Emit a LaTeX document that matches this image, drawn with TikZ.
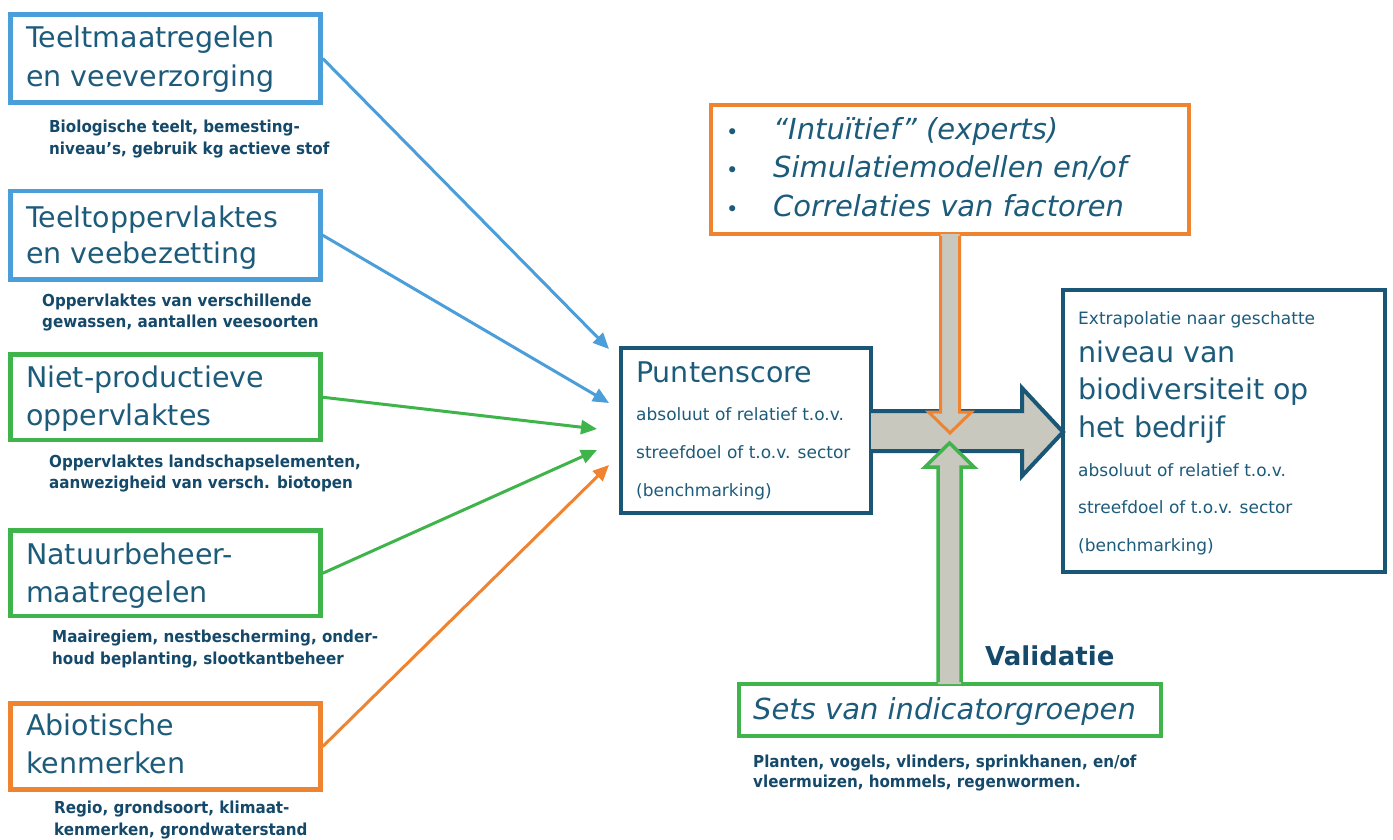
\documentclass[tikz,border=0pt]{standalone}
\usepackage{fontspec}
\usepackage{graphicx}
\setmainfont{DejaVu Sans}
\usetikzlibrary{arrows.meta}
\definecolor{cblue}{HTML}{4A9ED9}
\definecolor{cgreen}{HTML}{3EB44A}
\definecolor{corange}{HTML}{F0832F}
\definecolor{cdark}{HTML}{1A5675}
\definecolor{cgray}{HTML}{C8C8BF}
\definecolor{txt}{HTML}{1D5B7B}
\definecolor{txtd}{HTML}{15496A}
\newcommand{\subsq}[1]{\scalebox{0.917}[1]{#1}}
\tikzset{
  maintxt/.style={anchor=base west, inner sep=0pt, font=\fontsize{28.5}{34}\selectfont, text=txt},
  itxt/.style={anchor=base west, inner sep=0pt, font=\itshape\fontsize{29}{34}\selectfont, text=txt},
  subtxt/.style={anchor=base west, inner sep=0pt, font=\bfseries\fontsize{16.5}{19}\selectfont, text=txtd},
  smalltxt/.style={anchor=base west, inner sep=0pt, font=\fontsize{17}{20}\selectfont, text=txt},
  bullettxt/.style={anchor=base west, inner sep=0pt, font=\fontsize{21}{24}\selectfont, text=txt},
  frame/.style={draw, line width=4.5pt, inner sep=0pt, fill=white},
  leftbox/.style={frame, minimum width=310pt},
  conn/.style={line width=3pt, -{Triangle[length=16pt,width=14pt]}},
}
\begin{document}
\begin{tikzpicture}[x=1pt,y=-1pt]
\useasboundingbox (0,0) rectangle (1393,840);

% left boxes
\node[leftbox, draw=cblue, minimum height=88pt] (b1) at (165.5,58.5) {};
\node[leftbox, draw=cblue, minimum height=88.5pt] (b2) at (165.5,235.25) {};
\node[leftbox, draw=cgreen, minimum height=85.5pt] (b3) at (165.5,397.25) {};
\node[leftbox, draw=cgreen, minimum height=85.5pt] (b4) at (165.5,573.25) {};
\node[leftbox, draw=corange, minimum height=86pt] (b5) at (165.5,746.5) {};

\node[maintxt] (b1a) at (26,48) {Teeltmaatregelen};
\node[maintxt] (b1b) at (26,87) {en veeverzorging};
\node[subtxt] (s1a) at (49,133) {\subsq{Biologische teelt, bemesting-}};
\node[subtxt] (s1b) at (49,155) {\subsq{niveau’s, gebruik kg actieve stof}};

\node[maintxt] (b2a) at (26,227) {Teeltoppervlaktes};
\node[maintxt] (b2b) at (26,263) {en veebezetting};
\node[subtxt] (s2a) at (42,306) {\subsq{Oppervlaktes van verschillende}};
\node[subtxt] (s2b) at (42,327) {\subsq{gewassen, aantallen veesoorten}};

\node[maintxt] (b3a) at (26,387) {Niet-productieve};
\node[maintxt] (b3b) at (26,425) {oppervlaktes};
\node[subtxt] (s3a) at (49,467) {\subsq{Oppervlaktes landschapselementen,}};
\node[subtxt] (s3b) at (49,488) {\subsq{aanwezigheid van versch. biotopen}};

\node[maintxt] (b4a) at (26,564) {Natuurbeheer-};
\node[maintxt] (b4b) at (26,602) {maatregelen};
\node[subtxt] (s4a) at (52,642) {\subsq{Maairegiem, nestbescherming, onder-}};
\node[subtxt] (s4b) at (52,664) {\subsq{houd beplanting, slootkantbeheer}};

\node[maintxt] (b5a) at (26,735) {Abiotische};
\node[maintxt] (b5b) at (26,773) {kenmerken};
\node[subtxt] (s5a) at (54,813) {\subsq{Regio, grondsoort, klimaat-}};
\node[subtxt] (s5b) at (54,835) {\subsq{kenmerken, grondwaterstand}};

% Puntenscore box
\node[frame, draw=cdark, line width=4pt, minimum width=250.5pt, minimum height=165.5pt] (ps) at (745.75,430.25) {};
\node[maintxt] (psa) at (636,382) {Puntenscore};
\node[smalltxt] (psb) at (636,420) {absoluut of relatief t.o.v.};
\node[smalltxt] (psc) at (636,458) {streefdoel of t.o.v. sector};
\node[smalltxt] (psd) at (636,496) {(benchmarking)};

% connectors
\coordinate (t1) at (609,349);
\coordinate (t2) at (609,403);
\coordinate (t3) at (597,429);
\coordinate (t4) at (597,450);
\coordinate (t5) at (609,465);
\draw[conn, cblue] (b1.east) -- (t1);
\draw[conn, cblue] (b2.east) -- (t2);
\draw[conn, cgreen] (b3.east) -- (t3);
\draw[conn, cgreen] (b4.east) -- (t4);
\draw[conn, corange] (b5.east) -- (t5);

% right box
\node[frame, draw=cdark, line width=4pt, minimum width=322pt, minimum height=282.5pt] (rb) at (1224,430.75) {};
\node[smalltxt] (rba) at (1078,324) {Extrapolatie naar geschatte};
\node[maintxt] (rbb) at (1078,362) {niveau van};
\node[maintxt] (rbc) at (1078,399) {biodiversiteit op};
\node[maintxt] (rbd) at (1078,437) {het bedrijf};
\node[smalltxt] (rbe) at (1078,476) {absoluut of relatief t.o.v.};
\node[smalltxt] (rbf) at (1078,513) {streefdoel of t.o.v. sector};
\node[smalltxt] (rbg) at (1078,551) {(benchmarking)};

% big arrow
\fill[cgray] (871,411) -- (1022,411) -- (1022,388) -- (1063,432) -- (1022,476) -- (1022,451) -- (871,451) -- cycle;
\draw[cdark, line width=4pt, line join=miter] (871,411) -- (1022,411) -- (1022,388) -- (1063,432) -- (1022,476) -- (1022,451) -- (871,451);

% top box
\node[frame, draw=corange, line width=4pt, minimum width=478.5pt, minimum height=129pt] (tb) at (949.75,169.5) {};
\node[bullettxt] (tbu1) at (726,140) {•};
\node[bullettxt] (tbu2) at (726,178) {•};
\node[bullettxt] (tbu3) at (726,216) {•};
\node[itxt] (tba) at (773,140) {“Intuïtief” (experts)};
\node[itxt] (tbb) at (773,178) {Simulatiemodellen en/of};
\node[itxt] (tbc) at (773,216) {Correlaties van factoren};

% bottom box
\node[frame, draw=cgreen, line width=4pt, minimum width=422pt, minimum height=52pt] (bb) at (950,710) {};
\node[itxt] (bba) at (753,719) {Sets van indicatorgroepen};
\node[anchor=base west, inner sep=0pt, font=\bfseries\fontsize{26}{30}\selectfont, text=txtd] (val) at (985,665) {Validatie};
\node[subtxt] (bbb) at (753,767) {\subsq{Planten, vogels, vlinders, sprinkhanen, en/of}};
\node[subtxt] (bbc) at (753,787) {\subsq{vleermuizen, hommels, regenwormen.}};

% orange down arrow
\fill[cgray] (940.5,234) -- (940.5,412) -- (928.5,412) -- (950,433) -- (971.5,412) -- (959.5,412) -- (959.5,234) -- cycle;
\draw[corange, line width=3pt, line join=miter] (940.5,236) -- (940.5,412) -- (928.5,412) -- (950,433) -- (971.5,412) -- (959.5,412) -- (959.5,236);

% green up arrow
\fill[cgray] (938,684) -- (938,467) -- (925,467) -- (949.5,443) -- (974,467) -- (961,467) -- (961,684) -- cycle;
\draw[cgreen, line width=3.5pt, line join=miter] (938,682) -- (938,467) -- (925,467) -- (949.5,443) -- (974,467) -- (961,467) -- (961,682);
\end{tikzpicture}
\end{document}
